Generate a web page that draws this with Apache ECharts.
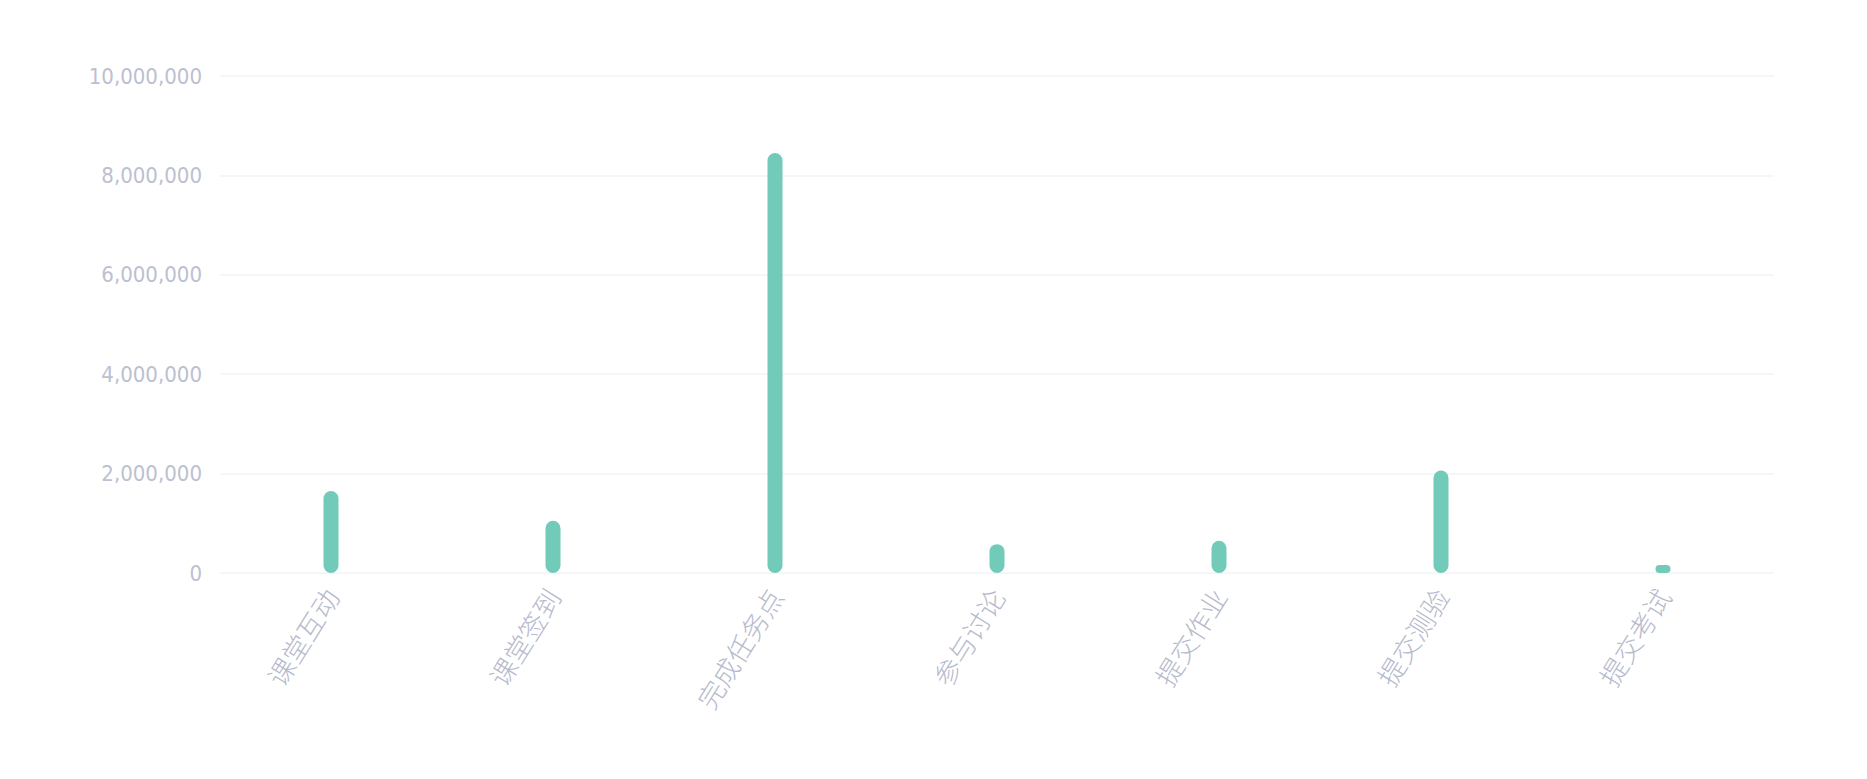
<!DOCTYPE html>
<html>
<head>
<meta charset="utf-8">
<script src="https://cdn.jsdelivr.net/npm/echarts@6/dist/echarts.min.js"></script>
<style>
html,body{margin:0;padding:0;background:#fff;}
#c{width:1867px;height:779px;}
</style>
</head>
<body>
<div id="c"></div>
<script>
const categories = ['课堂互动','课堂签到','完成任务点','参与讨论','提交作业','提交测验','提交考试'];
const values = [1650000, 1050000, 8450000, 580000, 650000, 2060000, 160000];
const yTicks = [0, 2000000, 4000000, 6000000, 8000000, 10000000];

const chart = echarts.init(document.getElementById('c'), null, {renderer:'svg'});
chart.setOption({
  backgroundColor:'#ffffff',
  animation:false,
  grid:{left:220, right:93, top:76, bottom:206, containLabel:false},
  xAxis:{
    type:'category',
    data:categories,
    boundaryGap:true,
    axisLine:{show:false},
    axisTick:{show:false},
    axisLabel:{
      rotate:58,
      margin:18,
      fontSize:27,
      color:'#b6bacc',
      fontFamily:'"Noto Sans CJK SC", sans-serif',
      fontWeight:300
    }
  },
  yAxis:{
    type:'value',
    min:yTicks[0],
    max:yTicks[yTicks.length-1],
    interval:yTicks[1]-yTicks[0],
    axisLine:{show:false},
    axisTick:{show:false},
    splitLine:{lineStyle:{color:'#f2f3f6', width:1.5}},
    axisLabel:{
      margin:18,
      fontSize:22,
      color:'#bcc0d1',
      fontFamily:'"Liberation Sans Narrow","DejaVu Sans Condensed","Roboto Condensed", Roboto, sans-serif',
      formatter:function(v){return v.toLocaleString('en-US');}
    }
  },
  series:[{
    type:'bar',
    data:values,
    barWidth:15,
    itemStyle:{color:'#72cbb8', borderRadius:8}
  }]
});
</script>
</body>
</html>
